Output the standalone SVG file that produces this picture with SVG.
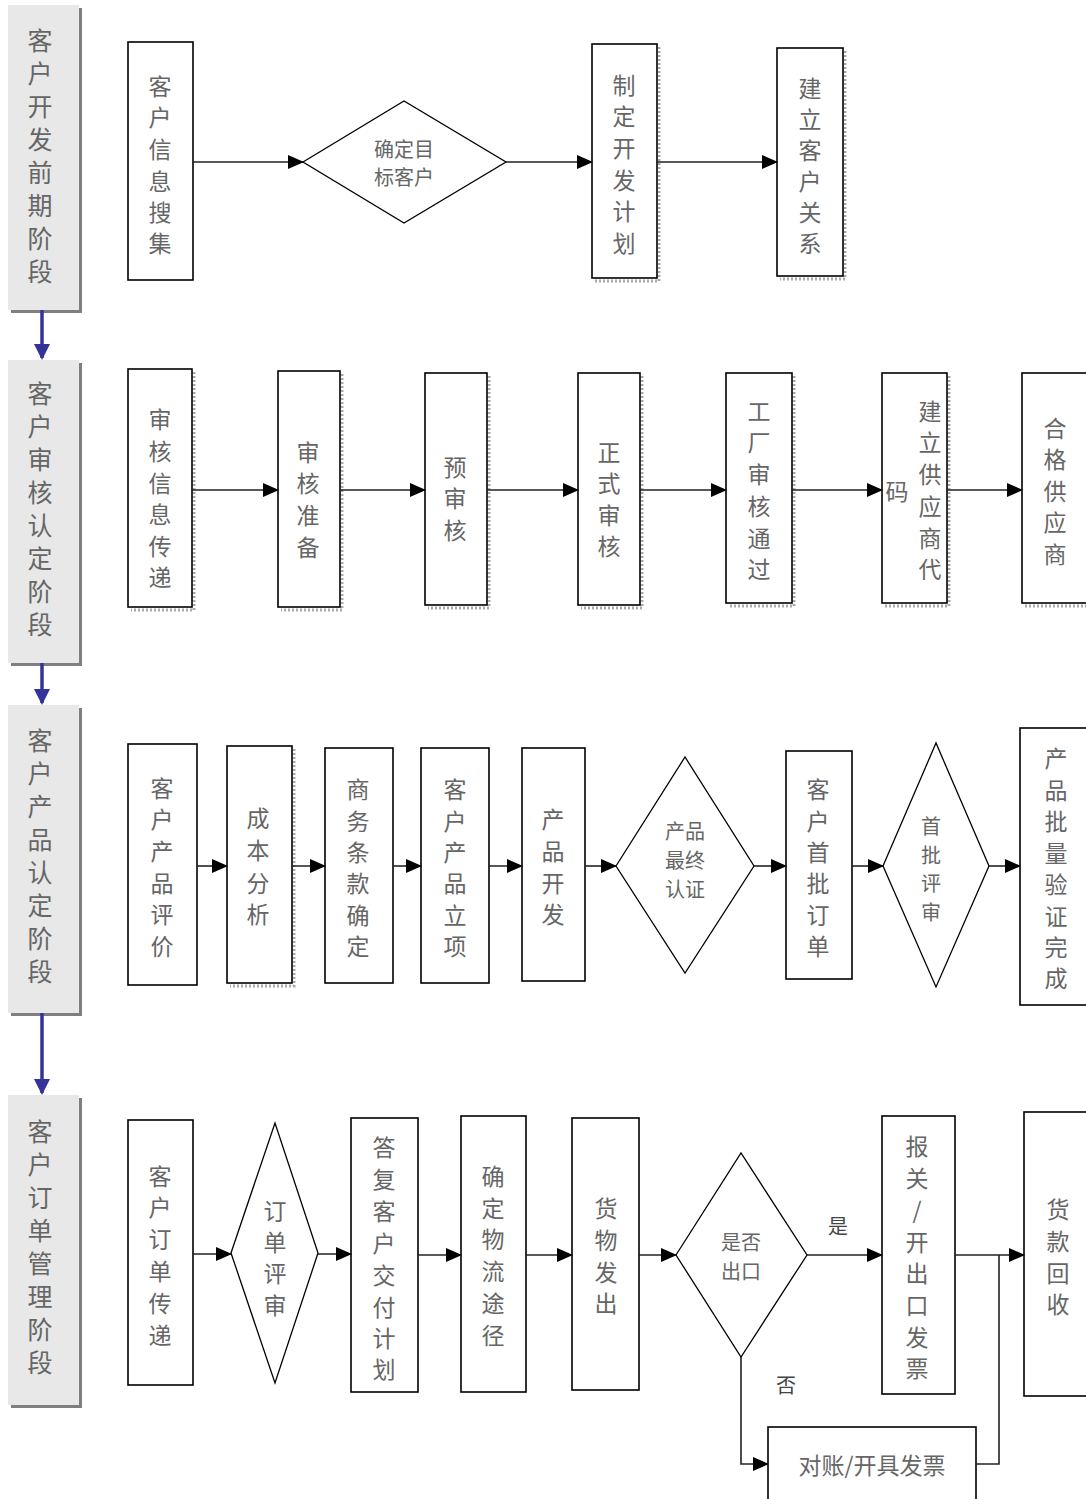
<svg xmlns="http://www.w3.org/2000/svg" width="1086" height="1499" viewBox="0 0 1086 1499">
<style>
text{font-family:"Noto Sans CJK SC","Noto Sans",sans-serif;fill:#666;dominant-baseline:central;text-anchor:middle}
.t{font-size:23px}
.d{font-size:20px}
.s{font-size:25px}
.box{fill:#fff;stroke:#000;stroke-width:1.6}
.dia{fill:#fff;stroke:#000;stroke-width:1.3}
.stage{fill:#e8e8e8}
.shadow{fill:#7f7f7f}
.sh{fill:none;stroke:#aaa;stroke-width:3;stroke-dasharray:2 2}
.c{fill:none;stroke:#222;stroke-width:1.6}
.b{fill:none;stroke:#333399;stroke-width:3.5}
.lbl{fill:#444;font-size:20px}
</style>
<defs>
<marker id="a" markerUnits="userSpaceOnUse" markerWidth="16" markerHeight="14" refX="15" refY="7" orient="auto"><path d="M0,0 L16,7 L0,14 Z" fill="#000"/></marker>
<marker id="ab" markerUnits="userSpaceOnUse" markerWidth="16" markerHeight="16" refX="14" refY="8" orient="auto"><path d="M0,0 L16,8 L0,16 Z" fill="#333399"/></marker>
</defs>

<!-- stages -->
<g id="stage1"><rect class="shadow" x="11" y="8" width="71" height="305"/><rect class="stage" x="8" y="5" width="71" height="305"/>
<text class="s"><tspan x="40" y="39">客</tspan><tspan x="40" y="72">户</tspan><tspan x="40" y="105">开</tspan><tspan x="40" y="138">发</tspan><tspan x="40" y="171">前</tspan><tspan x="40" y="204">期</tspan><tspan x="40" y="237">阶</tspan><tspan x="40" y="270">段</tspan></text></g>
<g id="stage2"><rect class="shadow" x="11" y="363" width="71" height="303"/><rect class="stage" x="8" y="360" width="71" height="303"/>
<text class="s"><tspan x="40" y="392">客</tspan><tspan x="40" y="425">户</tspan><tspan x="40" y="458">审</tspan><tspan x="40" y="491">核</tspan><tspan x="40" y="524">认</tspan><tspan x="40" y="557">定</tspan><tspan x="40" y="590">阶</tspan><tspan x="40" y="623">段</tspan></text></g>
<g id="stage3"><rect class="shadow" x="11" y="708" width="71" height="308"/><rect class="stage" x="8" y="705" width="71" height="308"/>
<text class="s"><tspan x="40" y="739">客</tspan><tspan x="40" y="772">户</tspan><tspan x="40" y="805">产</tspan><tspan x="40" y="838">品</tspan><tspan x="40" y="871">认</tspan><tspan x="40" y="904">定</tspan><tspan x="40" y="937">阶</tspan><tspan x="40" y="970">段</tspan></text></g>
<g id="stage4"><rect class="shadow" x="11" y="1098" width="71" height="310"/><rect class="stage" x="8" y="1095" width="71" height="310"/>
<text class="s"><tspan x="40" y="1130">客</tspan><tspan x="40" y="1163">户</tspan><tspan x="40" y="1196">订</tspan><tspan x="40" y="1229">单</tspan><tspan x="40" y="1262">管</tspan><tspan x="40" y="1295">理</tspan><tspan x="40" y="1328">阶</tspan><tspan x="40" y="1361">段</tspan></text></g>

<!-- row 1 -->
<g id="n1_1"><rect class="box" x="128" y="42" width="65" height="238"/>
<text class="t"><tspan x="160" y="85">客</tspan><tspan x="160" y="116">户</tspan><tspan x="160" y="148">信</tspan><tspan x="160" y="180">息</tspan><tspan x="160" y="211">搜</tspan><tspan x="160" y="242">集</tspan></text></g>
<g id="n1_2"><polygon class="dia" points="303,162 404,101 506,162 404,223"/>
<text class="d"><tspan x="404" y="148">确定目</tspan><tspan x="404" y="176">标客户</tspan></text></g>
<g id="n1_3"><path class="sh" d="M659,47 V281 H595"/><rect class="box" x="592" y="44" width="65" height="234"/>
<text class="t"><tspan x="624" y="84">制</tspan><tspan x="624" y="115">定</tspan><tspan x="624" y="147">开</tspan><tspan x="624" y="179">发</tspan><tspan x="624" y="210">计</tspan><tspan x="624" y="242">划</tspan></text></g>
<g id="n1_4"><path class="sh" d="M845,51 V279 H780"/><rect class="box" x="777" y="48" width="66" height="228"/>
<text class="t"><tspan x="810" y="87">建</tspan><tspan x="810" y="118">立</tspan><tspan x="810" y="149">客</tspan><tspan x="810" y="180">户</tspan><tspan x="810" y="211">关</tspan><tspan x="810" y="242">系</tspan></text></g>

<!-- row 2 -->
<g id="n2_1"><path class="sh" d="M194,372 V610 H131"/><rect class="box" x="128" y="369" width="64" height="238"/>
<text class="t"><tspan x="160" y="418">审</tspan><tspan x="160" y="450">核</tspan><tspan x="160" y="482">信</tspan><tspan x="160" y="513">息</tspan><tspan x="160" y="545">传</tspan><tspan x="160" y="576">递</tspan></text></g>
<g id="n2_2"><path class="sh" d="M342,374 V610 H281"/><rect class="box" x="278" y="371" width="62" height="236"/>
<text class="t"><tspan x="308" y="451">审</tspan><tspan x="308" y="482">核</tspan><tspan x="308" y="514">准</tspan><tspan x="308" y="546">备</tspan></text></g>
<g id="n2_3"><path class="sh" d="M489,376 V608 H428"/><rect class="box" x="425" y="373" width="62" height="232"/>
<text class="t"><tspan x="455" y="466">预</tspan><tspan x="455" y="497">审</tspan><tspan x="455" y="529">核</tspan></text></g>
<g id="n2_4"><path class="sh" d="M642,376 V608 H581"/><rect class="box" x="578" y="373" width="62" height="232"/>
<text class="t"><tspan x="609" y="451">正</tspan><tspan x="609" y="482">式</tspan><tspan x="609" y="514">审</tspan><tspan x="609" y="545">核</tspan></text></g>
<g id="n2_5"><path class="sh" d="M794,376 V606 H729"/><rect class="box" x="726" y="373" width="66" height="230"/>
<text class="t"><tspan x="759" y="410">工</tspan><tspan x="759" y="441">厂</tspan><tspan x="759" y="473">审</tspan><tspan x="759" y="505">核</tspan><tspan x="759" y="537">通</tspan><tspan x="759" y="568">过</tspan></text></g>
<g id="n2_6"><path class="sh" d="M949,376 V606 H885"/><rect class="box" x="882" y="373" width="65" height="230"/>
<text class="t"><tspan x="930" y="410">建</tspan><tspan x="930" y="441">立</tspan><tspan x="930" y="473">供</tspan><tspan x="930" y="505">应</tspan><tspan x="930" y="537">商</tspan><tspan x="930" y="568">代</tspan><tspan x="897" y="490">码</tspan></text></g>
<g id="n2_7"><path class="sh" d="M1025,606 H1086"/><rect class="box" x="1022" y="373" width="70" height="230"/>
<text class="t"><tspan x="1055" y="427">合</tspan><tspan x="1055" y="458">格</tspan><tspan x="1055" y="490">供</tspan><tspan x="1055" y="521">应</tspan><tspan x="1055" y="553">商</tspan></text></g>

<!-- row 3 -->
<g id="n3_1"><rect class="box" x="128" y="744" width="69" height="241"/>
<text class="t"><tspan x="162" y="787">客</tspan><tspan x="162" y="818">户</tspan><tspan x="162" y="850">产</tspan><tspan x="162" y="882">品</tspan><tspan x="162" y="913">评</tspan><tspan x="162" y="945">价</tspan></text></g>
<g id="n3_2"><path class="sh" d="M294,749 V986 H230"/><rect class="box" x="227" y="746" width="65" height="237"/>
<text class="t"><tspan x="258" y="817">成</tspan><tspan x="258" y="849">本</tspan><tspan x="258" y="882">分</tspan><tspan x="258" y="913">析</tspan></text></g>
<g id="n3_3"><rect class="box" x="325" y="748" width="68" height="235"/>
<text class="t"><tspan x="358" y="788">商</tspan><tspan x="358" y="820">务</tspan><tspan x="358" y="851">条</tspan><tspan x="358" y="882">款</tspan><tspan x="358" y="914">确</tspan><tspan x="358" y="945">定</tspan></text></g>
<g id="n3_4"><rect class="box" x="421" y="748" width="68" height="235"/>
<text class="t"><tspan x="455" y="788">客</tspan><tspan x="455" y="820">户</tspan><tspan x="455" y="851">产</tspan><tspan x="455" y="882">品</tspan><tspan x="455" y="914">立</tspan><tspan x="455" y="945">项</tspan></text></g>
<g id="n3_5"><rect class="box" x="522" y="748" width="63" height="233"/>
<text class="t"><tspan x="553" y="818">产</tspan><tspan x="553" y="850">品</tspan><tspan x="553" y="882">开</tspan><tspan x="553" y="913">发</tspan></text></g>
<g id="n3_6"><polygon class="dia" points="616,866 685,757 754,866 685,973"/>
<text class="d"><tspan x="685" y="830">产品</tspan><tspan x="685" y="859">最终</tspan><tspan x="685" y="888">认证</tspan></text></g>
<g id="n3_7"><rect class="box" x="786" y="751" width="66" height="228"/>
<text class="t"><tspan x="818" y="788">客</tspan><tspan x="818" y="820">户</tspan><tspan x="818" y="851">首</tspan><tspan x="818" y="882">批</tspan><tspan x="818" y="914">订</tspan><tspan x="818" y="945">单</tspan></text></g>
<g id="n3_8"><polygon class="dia" points="883,866 936,743 989,866 936,987"/>
<text class="d"><tspan x="931" y="825">首</tspan><tspan x="931" y="854">批</tspan><tspan x="931" y="882">评</tspan><tspan x="931" y="911">审</tspan></text></g>
<g id="n3_9"><rect class="box" x="1020" y="728" width="72" height="277"/>
<text class="t"><tspan x="1056" y="757">产</tspan><tspan x="1056" y="789">品</tspan><tspan x="1056" y="820">批</tspan><tspan x="1056" y="852">量</tspan><tspan x="1056" y="883">验</tspan><tspan x="1056" y="915">证</tspan><tspan x="1056" y="946">完</tspan><tspan x="1056" y="977">成</tspan></text></g>

<!-- row 4 -->
<g id="n4_1"><rect class="box" x="128" y="1120" width="65" height="265"/>
<text class="t"><tspan x="160" y="1175">客</tspan><tspan x="160" y="1206">户</tspan><tspan x="160" y="1238">订</tspan><tspan x="160" y="1270">单</tspan><tspan x="160" y="1302">传</tspan><tspan x="160" y="1334">递</tspan></text></g>
<g id="n4_2"><polygon class="dia" points="231,1253 275,1123 318,1253 275,1383"/>
<text class="t"><tspan x="275" y="1210">订</tspan><tspan x="275" y="1241">单</tspan><tspan x="275" y="1272">评</tspan><tspan x="275" y="1304">审</tspan></text></g>
<g id="n4_3"><rect class="box" x="351" y="1118" width="67" height="274"/>
<text class="t"><tspan x="384" y="1146">答</tspan><tspan x="384" y="1178">复</tspan><tspan x="384" y="1210">客</tspan><tspan x="384" y="1242">户</tspan><tspan x="384" y="1274">交</tspan><tspan x="384" y="1306">付</tspan><tspan x="384" y="1337">计</tspan><tspan x="384" y="1368">划</tspan></text></g>
<g id="n4_4"><rect class="box" x="461" y="1116" width="65" height="276"/>
<text class="t"><tspan x="493" y="1175">确</tspan><tspan x="493" y="1207">定</tspan><tspan x="493" y="1238">物</tspan><tspan x="493" y="1270">流</tspan><tspan x="493" y="1302">途</tspan><tspan x="493" y="1334">径</tspan></text></g>
<g id="n4_5"><rect class="box" x="572" y="1118" width="67" height="272"/>
<text class="t"><tspan x="606" y="1207">货</tspan><tspan x="606" y="1239">物</tspan><tspan x="606" y="1271">发</tspan><tspan x="606" y="1302">出</tspan></text></g>
<g id="n4_6"><polygon class="dia" points="676,1255 741,1153 807,1255 741,1357"/>
<text class="d"><tspan x="741" y="1241">是否</tspan><tspan x="741" y="1270">出口</tspan></text></g>
<g id="n4_7"><rect class="box" x="882" y="1116" width="73" height="278"/>
<text class="t"><tspan x="917" y="1145">报</tspan><tspan x="917" y="1177">关</tspan><tspan x="917" y="1209">/</tspan><tspan x="917" y="1241">开</tspan><tspan x="917" y="1272">出</tspan><tspan x="917" y="1304">口</tspan><tspan x="917" y="1336">发</tspan><tspan x="917" y="1367">票</tspan></text></g>
<g id="n4_8"><rect class="box" x="1024" y="1112" width="68" height="284"/>
<text class="t"><tspan x="1058" y="1208">货</tspan><tspan x="1058" y="1240">款</tspan><tspan x="1058" y="1272">回</tspan><tspan x="1058" y="1303">收</tspan></text></g>
<g id="n4_9"><rect class="box" x="768" y="1427" width="208" height="80"/>
<text class="t" x="872" y="1464">对账/开具发票</text></g>

<!-- connectors -->
<g id="connectors">
<path class="b" d="M42,310 V358" marker-end="url(#ab)"/>
<path class="b" d="M42,663 V703" marker-end="url(#ab)"/>
<path class="b" d="M42,1013 V1093" marker-end="url(#ab)"/>

<path class="c" d="M193,162 H303" marker-end="url(#a)"/>
<path class="c" d="M506,162 H592" marker-end="url(#a)"/>
<path class="c" d="M657,162 H777" marker-end="url(#a)"/>

<path class="c" d="M192,490 H278" marker-end="url(#a)"/>
<path class="c" d="M340,490 H425" marker-end="url(#a)"/>
<path class="c" d="M487,490 H578" marker-end="url(#a)"/>
<path class="c" d="M640,490 H726" marker-end="url(#a)"/>
<path class="c" d="M792,490 H882" marker-end="url(#a)"/>
<path class="c" d="M947,490 H1022" marker-end="url(#a)"/>

<path class="c" d="M197,866 H227" marker-end="url(#a)"/>
<path class="c" d="M292,866 H325" marker-end="url(#a)"/>
<path class="c" d="M393,866 H421" marker-end="url(#a)"/>
<path class="c" d="M489,866 H522" marker-end="url(#a)"/>
<path class="c" d="M585,866 H616" marker-end="url(#a)"/>
<path class="c" d="M754,866 H786" marker-end="url(#a)"/>
<path class="c" d="M852,866 H883" marker-end="url(#a)"/>
<path class="c" d="M989,866 H1020" marker-end="url(#a)"/>

<path class="c" d="M193,1254 H231" marker-end="url(#a)"/>
<path class="c" d="M318,1254 H351" marker-end="url(#a)"/>
<path class="c" d="M418,1255 H461" marker-end="url(#a)"/>
<path class="c" d="M526,1255 H572" marker-end="url(#a)"/>
<path class="c" d="M639,1255 H676" marker-end="url(#a)"/>
<path class="c" d="M807,1255 H882" marker-end="url(#a)"/>
<path class="c" d="M955,1255 H1024" marker-end="url(#a)"/>
<path class="c" d="M741,1357 V1464 H768" marker-end="url(#a)"/>
<path class="c" d="M976,1464 H999 V1255"/>
<text class="lbl" x="838" y="1225">是</text>
<text class="lbl" x="786" y="1384">否</text>
</g>
</svg>
